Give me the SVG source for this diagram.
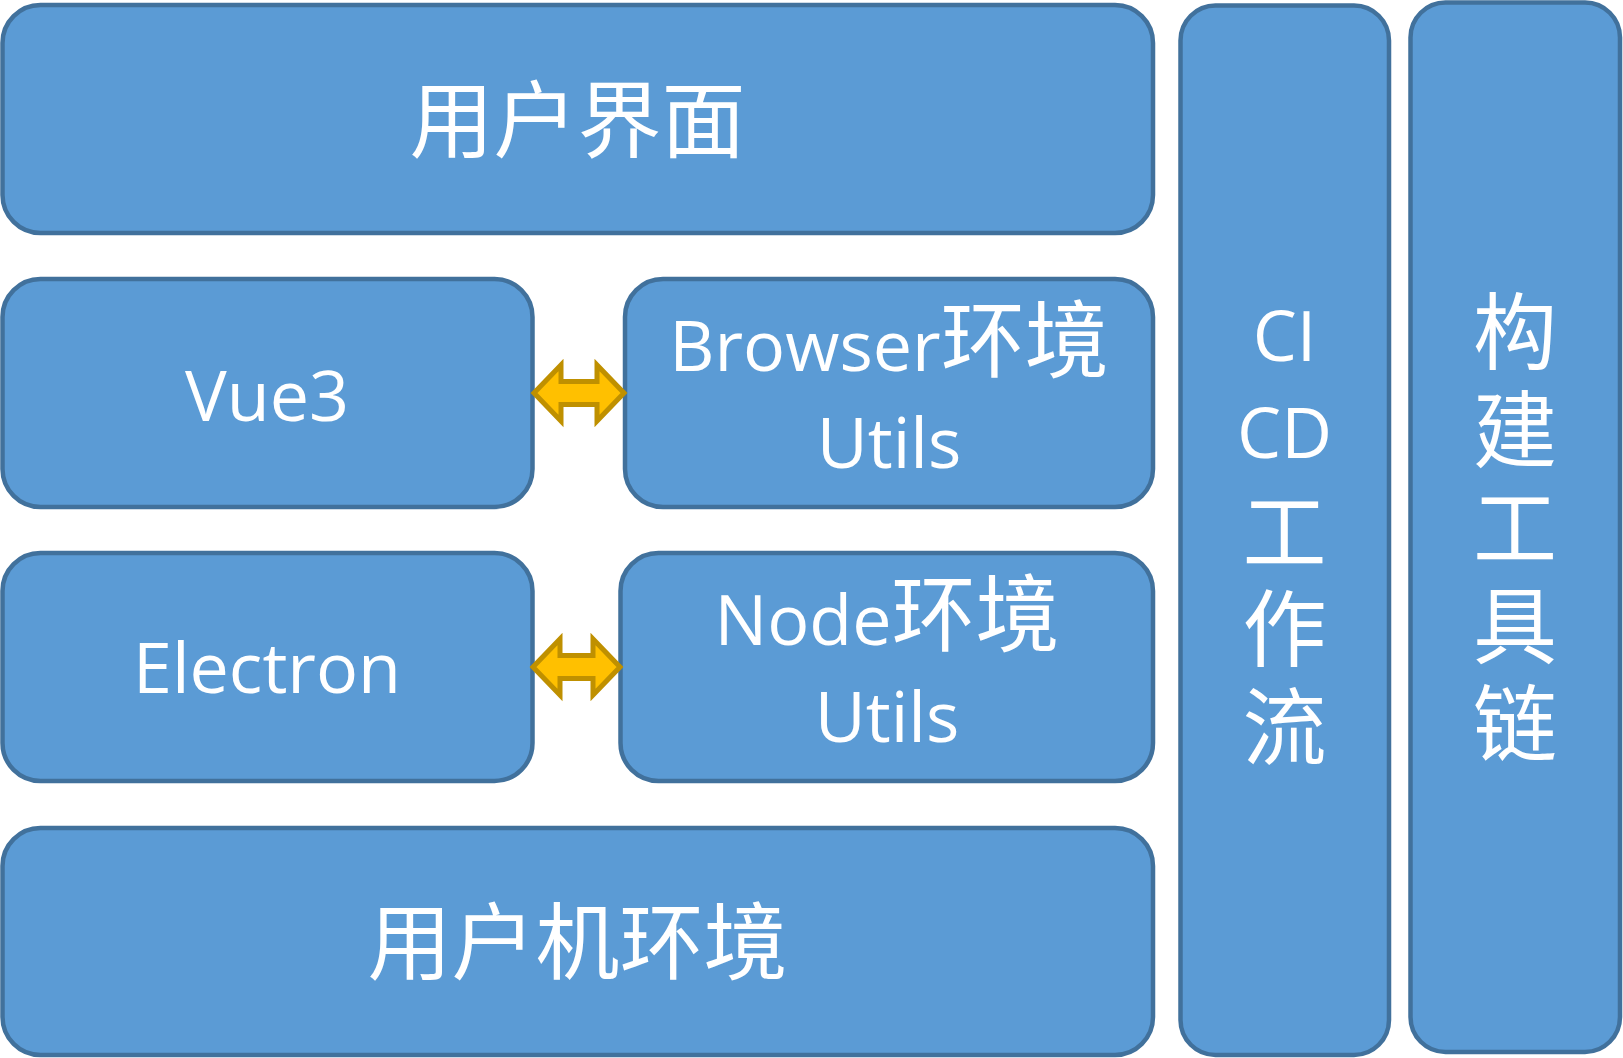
<svg xmlns="http://www.w3.org/2000/svg" width="1623" height="1058" viewBox="0 0 1623 1058">
<style>
.box{fill:#5B9BD5;stroke:#41719C;stroke-width:4.5}
.lat{font-family:"Open Sans","Noto Sans CJK SC",sans-serif;font-size:70px;fill:#FFFFFF;text-anchor:middle}
.cjk{font-family:"Noto Sans CJK SC",sans-serif;font-size:84px;fill:#FFFFFF}
text.cjk{text-anchor:middle}
.arr{fill:#FFC000;stroke:#BF9000;stroke-width:5;stroke-linejoin:miter}
</style>
<rect width="1623" height="1058" fill="#FFFFFF"/>
<g id="ui">
<rect class="box" x="2.5" y="5" width="1150.5" height="228" rx="38"/>
<text class="cjk" x="577.5" y="151">用户界面</text>
</g>
<g id="vue3">
<rect class="box" x="2.5" y="279" width="530" height="228" rx="38"/>
<text class="lat" x="267" y="421">Vue3</text>
</g>
<g id="browser">
<rect class="box" x="625" y="279" width="528" height="228" rx="38"/>
<text class="lat" x="889" y="371">Browser<tspan class="cjk">环境</tspan></text>
<text class="lat" x="889" y="468">Utils</text>
</g>
<g id="electron">
<rect class="box" x="2.5" y="553" width="530" height="228" rx="38"/>
<text class="lat" x="267" y="693">Electron</text>
</g>
<g id="node">
<rect class="box" x="620.5" y="553" width="532.5" height="228" rx="38"/>
<text class="lat" x="887" y="645">Node<tspan class="cjk">环境</tspan></text>
<text class="lat" x="887" y="742">Utils</text>
</g>
<g id="machine">
<rect class="box" x="2.5" y="828" width="1150.5" height="227" rx="38"/>
<text class="cjk" x="577.5" y="973">用户机环境</text>
</g>
<g id="cicd">
<rect class="box" x="1180.5" y="5.5" width="208.5" height="1049.5" rx="35"/>
<text class="lat" x="1284.5" y="360.5">CI</text>
<text class="lat" x="1284.5" y="458">CD</text>
<text class="cjk" x="1284.5" y="562.5">工</text>
<text class="cjk" x="1284.5" y="660">作</text>
<text class="cjk" x="1284.5" y="757.5">流</text>
</g>
<g id="toolchain">
<rect class="box" x="1410.5" y="2.5" width="209.5" height="1049.5" rx="35"/>
<text class="cjk" x="1515" y="363">构</text>
<text class="cjk" x="1515" y="461">建</text>
<text class="cjk" x="1515" y="559">工</text>
<text class="cjk" x="1515" y="657">具</text>
<text class="cjk" x="1515" y="755">链</text>
</g>
<g id="connectors">
<polygon class="arr" points="534,393 561,365 561,381.5 597,381.5 597,365 624,393 597,421 597,404.5 561,404.5 561,421"/>
<polygon class="arr" points="533,667 560,639 560,655.5 593,655.5 593,639 620,667 593,695 593,678.5 560,678.5 560,695"/>
</g>
</svg>
